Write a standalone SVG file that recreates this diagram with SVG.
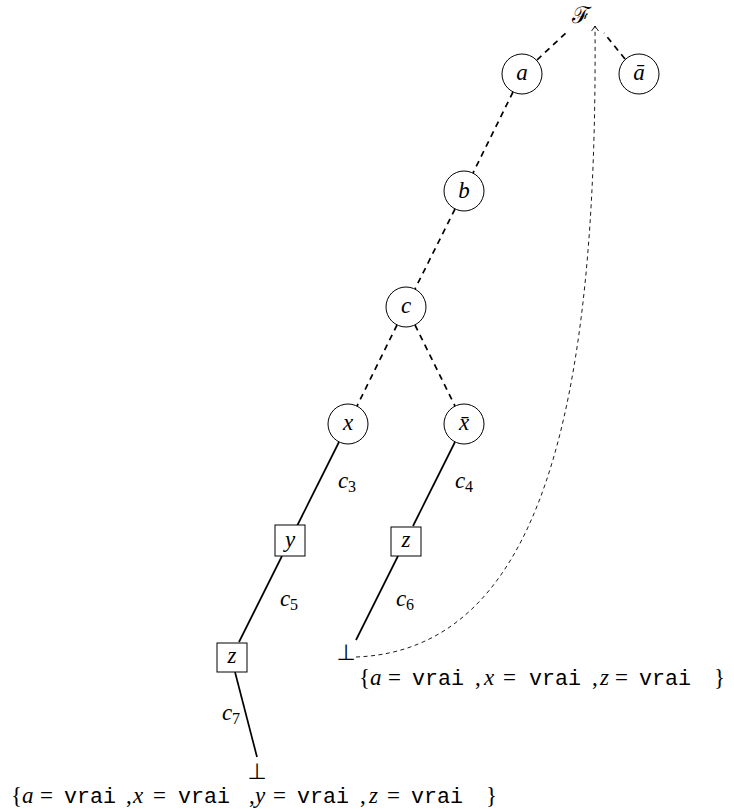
<svg xmlns="http://www.w3.org/2000/svg" width="734" height="809" viewBox="0 0 734 809">
<defs>
<marker id="arr" viewBox="-6 -5 8 10" markerWidth="8" markerHeight="10" refX="0" refY="0" orient="auto" markerUnits="userSpaceOnUse">
<path d="M -5 -3.5 Q -1.5 -0.8 0 0 Q -1.5 0.8 -5 3.5" fill="none" stroke="#000" stroke-width="0.9"/>
</marker>
<style>
.nd{fill:#fff;stroke:#000;stroke-width:1}
.m{font-family:"Liberation Serif","DejaVu Serif",serif;font-style:italic;font-size:23px;fill:#000}
.r{font-family:"Liberation Serif","DejaVu Serif",serif;font-size:23px;fill:#000}
.t{font-family:"Liberation Mono","DejaVu Sans Mono",monospace;font-size:21.7px;fill:#000}
.sub{font-family:"Liberation Serif","DejaVu Serif",serif;font-size:16px;fill:#000}
.bot{font-family:"DejaVu Sans",sans-serif;font-size:22px;fill:#000}
.dash{stroke:#000;stroke-width:1.7;stroke-dasharray:6 5;fill:none}
.sol{stroke:#000;stroke-width:1.7;fill:none}
.thin{stroke:#000;stroke-width:0.9;stroke-dasharray:4 3.5;fill:none}
</style>
</defs>
<g id="connectors">
<line class="dash" x1="537" y1="60" x2="567" y2="32"/>
<line class="dash" x1="625" y1="59" x2="604" y2="33"/>
<line class="dash" x1="513" y1="92" x2="473" y2="173"/>
<line class="dash" x1="455" y1="209" x2="415" y2="289"/>
<line class="dash" x1="397" y1="325" x2="357" y2="406"/>
<line class="dash" x1="415" y1="325" x2="455" y2="406"/>
<line class="sol" x1="339" y1="442" x2="297" y2="526"/>
<line class="sol" x1="282" y1="556" x2="239" y2="642"/>
<line class="sol" x1="455" y1="442" x2="413" y2="526"/>
<line class="sol" x1="398" y1="556" x2="356" y2="640"/>
<line class="sol" x1="235" y1="672" x2="257" y2="757"/>
<path class="thin" d="M 356 657 C 540 650, 598 410, 595 26" marker-end="url(#arr)"/>
</g>
<g id="nF"><text class="r" x="581" y="23" text-anchor="middle" font-family="DejaVu Serif" font-size="27">ℱ</text></g>
<g id="na"><circle class="nd" cx="522" cy="74" r="20"/><text class="m" x="522" y="80" text-anchor="middle">a</text></g>
<g id="nabar"><circle class="nd" cx="639" cy="74" r="20"/><text class="m" x="639" y="80" text-anchor="middle">ā</text></g>
<g id="nb"><circle class="nd" cx="464" cy="191" r="20"/><text class="m" x="464" y="198" text-anchor="middle">b</text></g>
<g id="nc"><circle class="nd" cx="406" cy="307" r="20"/><text class="m" x="406" y="313" text-anchor="middle">c</text></g>
<g id="nx"><circle class="nd" cx="348" cy="424" r="20"/><text class="m" x="348" y="430" text-anchor="middle">x</text></g>
<g id="nxbar"><circle class="nd" cx="464" cy="424" r="20"/><text class="m" x="464" y="430" text-anchor="middle">x̄</text></g>
<g id="ny"><rect class="nd" x="275" y="525" width="30" height="31"/><text class="m" x="290" y="547" text-anchor="middle">y</text></g>
<g id="nz1"><rect class="nd" x="391" y="527" width="30" height="29"/><text class="m" x="406" y="547" text-anchor="middle">z</text></g>
<g id="nz2"><rect class="nd" x="217" y="643" width="30" height="29"/><text class="m" x="232" y="663" text-anchor="middle">z</text></g>
<g id="labels">
<text class="m" x="338" y="488">c</text><text class="sub" x="348" y="492">3</text>
<text class="m" x="455" y="488">c</text><text class="sub" x="465" y="492">4</text>
<text class="m" x="280" y="606">c</text><text class="sub" x="290" y="610">5</text>
<text class="m" x="396" y="606">c</text><text class="sub" x="406" y="610">6</text>
<text class="m" x="222" y="720">c</text><text class="sub" x="232" y="724">7</text>
</g>
<g id="leaf1">
<text class="bot" x="346" y="660" text-anchor="middle">⊥</text>
<text class="r" x="359" y="685">{</text>
<text class="m" x="370" y="685">a</text>
<text class="r" x="388" y="685">=</text>
<text class="t" x="412" y="685">vrai</text>
<text class="r" x="475" y="685">,</text>
<text class="m" x="484" y="685">x</text>
<text class="r" x="503" y="685">=</text>
<text class="t" x="529" y="685">vrai</text>
<text class="r" x="592" y="685">,</text>
<text class="m" x="600" y="685">z</text>
<text class="r" x="615" y="685">=</text>
<text class="t" x="639" y="685">vrai</text>
<text class="r" x="714" y="685">}</text>
</g>
<g id="leaf2">
<text class="bot" x="257" y="779" text-anchor="middle">⊥</text>
<text class="r" x="11" y="803">{</text>
<text class="m" x="22" y="803">a</text>
<text class="r" x="40" y="803">=</text>
<text class="t" x="64" y="803">vrai</text>
<text class="r" x="126" y="803">,</text>
<text class="m" x="133" y="803">x</text>
<text class="r" x="153" y="803">=</text>
<text class="t" x="178" y="803">vrai</text>
<text class="r" x="249" y="803">,</text>
<text class="m" x="255" y="803">y</text>
<text class="r" x="273" y="803">=</text>
<text class="t" x="297" y="803">vrai</text>
<text class="r" x="360" y="803">,</text>
<text class="m" x="369" y="803">z</text>
<text class="r" x="387" y="803">=</text>
<text class="t" x="411" y="803">vrai</text>
<text class="r" x="486" y="803">}</text>
</g>
</svg>
